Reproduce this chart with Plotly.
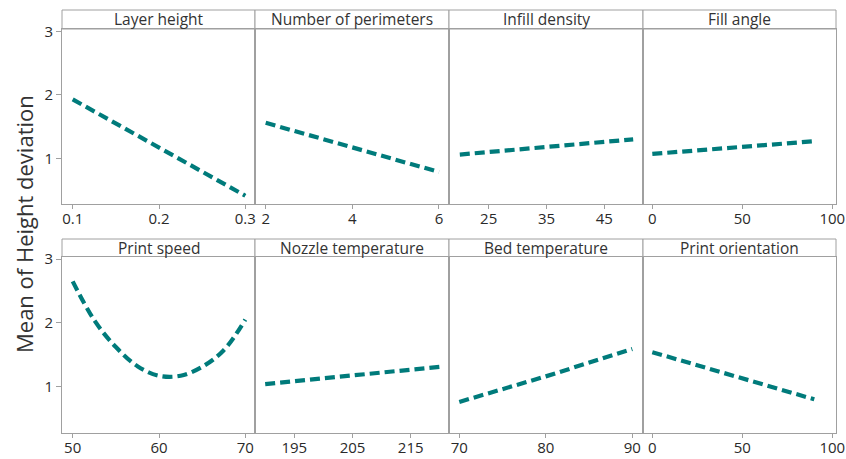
import plotly.graph_objects as go

# Main effects of the printing parameters on the mean height deviation
factors = ["Layer height", "Number of perimeters", "Infill density", "Fill angle",
           "Print speed", "Nozzle temperature", "Bed temperature", "Print orientation"]

layer_height = [0.1, 0.2, 0.3]
layer_height_mean = [1.93, 1.17, 0.41]

perimeters = [2, 4, 6]
perimeters_mean = [1.56, 1.17, 0.785]

infill_density = [20, 35, 50]
infill_density_mean = [1.06, 1.18, 1.30]

fill_angle = [0, 45, 90]
fill_angle_mean = [1.07, 1.17, 1.27]

print_speed = [50, 52.5, 55, 57.5, 60, 62.5, 65, 67.5, 70]
print_speed_mean = [2.65, 2.04, 1.62, 1.32, 1.17, 1.17, 1.31, 1.57, 2.05]

nozzle_temp = [190, 205, 220]
nozzle_temp_mean = [1.04, 1.17, 1.31]

bed_temp = [70, 80, 90]
bed_temp_mean = [0.76, 1.16, 1.59]

orientation = [0, 45, 90]
orientation_mean = [1.54, 1.17, 0.80]

x_ticks = [[0.1, 0.2, 0.3], [2, 4, 6], [25, 35, 45], [0, 50, 100],
           [50, 60, 70], [195, 205, 215], [70, 80, 90], [0, 50, 100]]
y_ticks = [1, 2, 3]

series = [
    (layer_height, layer_height_mean),
    (perimeters, perimeters_mean),
    (infill_density, infill_density_mean),
    (fill_angle, fill_angle_mean),
    (print_speed, print_speed_mean),
    (nozzle_temp, nozzle_temp_mean),
    (bed_temp, bed_temp_mean),
    (orientation, orientation_mean),
]

# ---- layout geometry ----
W, H = 846, 459
col_px = [62, 255, 449, 643, 836]
rows_px = [(29, 204), (256.5, 432.5)]     # plot area (top, bottom) per row
strip_px = [(10, 29), (239, 256.5)]        # strip header (top, bottom) per row
x_ranges = [[0.0876, 0.3112], [1.753, 6.231], [18.13, 51.70], [-5.17, 102.06],
            [48.76, 71.12], [188.25, 221.58], [68.81, 91.24], [-5.17, 102.06]]
y_range = [0.28, 3.04]

FONT = "Open Sans"
FRAME = "#a0a0a0"
LINE = "#007b7b"
TXT = "#2a2a2a"

fig = go.Figure()
layout = dict(
    width=W, height=H,
    margin=dict(l=0, r=0, t=0, b=0, autoexpand=False),
    paper_bgcolor="white", plot_bgcolor="white",
    showlegend=False,
    font=dict(family=FONT, size=15, color=TXT),
)
shapes, annotations = [], []

for i, ((xv, yv), name) in enumerate(zip(series, factors)):
    r, c = divmod(i, 4)
    n = i + 1
    xa = "x" if n == 1 else f"x{n}"
    ya = "y" if n == 1 else f"y{n}"
    fig.add_trace(go.Scatter(
        x=xv, y=yv, xaxis=xa, yaxis=ya, mode="lines",
        line=dict(color=LINE, width=4.2, dash="10px,5px",
                  shape="spline" if len(xv) > 3 else "linear"),
        hoverinfo="skip",
    ))
    x0, x1 = col_px[c] / W, col_px[c + 1] / W
    top, bot = rows_px[r]
    layout["xaxis" if n == 1 else f"xaxis{n}"] = dict(
        domain=[x0, x1], range=x_ranges[i], anchor=ya, automargin=False,
        tickvals=x_ticks[i], ticks="outside", ticklen=4, tickcolor=FRAME,
        ticklabelstandoff=-3,
        showline=True, mirror=True, linecolor=FRAME, linewidth=1,
        showgrid=False, zeroline=False,
        tickfont=dict(family=FONT, size=15, color=TXT),
    )
    layout["yaxis" if n == 1 else f"yaxis{n}"] = dict(
        domain=[1 - bot / H, 1 - top / H], range=y_range, anchor=xa,
        automargin=False,
        tickvals=y_ticks, ticks="outside" if c == 0 else "", ticklen=5,
        tickcolor=FRAME, showticklabels=(c == 0),
        showline=True, mirror=True, linecolor=FRAME, linewidth=1,
        showgrid=False, zeroline=False,
        tickfont=dict(family=FONT, size=15, color=TXT),
    )
    st, sb = strip_px[r]
    shapes.append(dict(type="rect", xref="paper", yref="paper",
                       x0=x0, x1=x1, y0=1 - sb / H, y1=1 - st / H,
                       line=dict(color=FRAME, width=1), fillcolor="white",
                       layer="below"))
    annotations.append(dict(text=name, xref="paper", yref="paper",
                            x=(x0 + x1) / 2, y=1 - (st + sb) / 2 / H,
                            xanchor="center", yanchor="middle", showarrow=False,
                            font=dict(family=FONT, size=15.5, color="#333")))

annotations.append(dict(text="Mean of Height deviation", xref="paper", yref="paper",
                        x=24 / W, y=1 - 224 / H, textangle=-90,
                        xanchor="center", yanchor="middle", showarrow=False,
                        font=dict(family=FONT, size=22, color="#333")))

layout["shapes"] = shapes
layout["annotations"] = annotations
fig.update_layout(**layout)
fig.write_html("out.html")
